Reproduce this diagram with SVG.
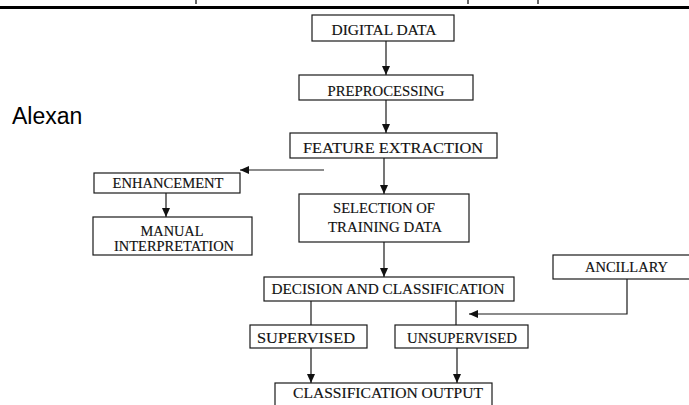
<svg xmlns="http://www.w3.org/2000/svg" width="689" height="405" viewBox="0 0 689 405">
<style>
.box{fill:#fff;stroke:#1a1a1a;stroke-width:1.2}
.t{font-family:"Liberation Serif","Times New Roman",serif;font-size:15px;fill:#111;text-anchor:middle;stroke:#111;stroke-width:0.15}
.ln{stroke:#1a1a1a;stroke-width:1.2;fill:none}
</style>
<defs>
<marker id="ah" markerWidth="10" markerHeight="8" refX="9" refY="4" orient="auto" markerUnits="userSpaceOnUse">
<path d="M0,0 L9,4 L0,8 Z" fill="#111"/>
</marker>
</defs>
<rect width="689" height="405" fill="#fff"/>
<g id="header">
<line x1="0" y1="7.5" x2="689" y2="7.5" stroke="#000" stroke-width="3"/>
<line x1="196" y1="0" x2="196" y2="4" stroke="#333" stroke-width="1.5"/>
<line x1="468" y1="0" x2="468" y2="4" stroke="#333" stroke-width="1.5"/>
<line x1="538" y1="0" x2="538" y2="4" stroke="#333" stroke-width="1.5"/>
<text x="12" y="124" font-family="Liberation Sans, Arial, sans-serif" font-size="23" fill="#000">Alexan</text>
</g>
<g id="connectors">
<line class="ln" x1="386" y1="41" x2="386" y2="75" marker-end="url(#ah)"/>
<line class="ln" x1="386" y1="100" x2="386" y2="133" marker-end="url(#ah)"/>
<line class="ln" x1="384" y1="158" x2="384" y2="194" marker-end="url(#ah)"/>
<line class="ln" x1="384" y1="242" x2="384" y2="277" marker-end="url(#ah)"/>
<line class="ln" x1="324" y1="170" x2="240" y2="170" marker-end="url(#ah)"/>
<line class="ln" x1="166" y1="193" x2="166" y2="217" marker-end="url(#ah)"/>
<line class="ln" x1="311" y1="301" x2="311" y2="325"/>
<line class="ln" x1="456" y1="301" x2="456" y2="325"/>
<polyline class="ln" points="627,279 627,314 469,314" marker-end="url(#ah)"/>
<line class="ln" x1="311" y1="348" x2="311" y2="383" marker-end="url(#ah)"/>
<line class="ln" x1="457" y1="348" x2="457" y2="383" marker-end="url(#ah)"/>
</g>
<g id="digital-data">
<rect class="box" x="312" y="15" width="142" height="26"/>
<text class="t" x="384" y="35" textLength="105" lengthAdjust="spacingAndGlyphs">DIGITAL DATA</text>
</g>
<g id="preprocessing">
<rect class="box" x="299" y="75" width="174" height="25"/>
<text class="t" x="386" y="96" textLength="117" lengthAdjust="spacingAndGlyphs">PREPROCESSING</text>
</g>
<g id="feature-extraction">
<rect class="box" x="290" y="133" width="207" height="25"/>
<text class="t" x="393" y="153" textLength="180" lengthAdjust="spacingAndGlyphs">FEATURE EXTRACTION</text>
</g>
<g id="enhancement">
<rect class="box" x="94" y="173" width="146" height="20"/>
<text class="t" x="168" y="188" textLength="111" lengthAdjust="spacingAndGlyphs">ENHANCEMENT</text>
</g>
<g id="manual-interpretation">
<rect class="box" x="93" y="217" width="159" height="38"/>
<text class="t" x="172" y="236" textLength="63" lengthAdjust="spacingAndGlyphs">MANUAL</text>
<text class="t" x="174" y="251" textLength="120" lengthAdjust="spacingAndGlyphs">INTERPRETATION</text>
</g>
<g id="selection">
<rect class="box" x="299" y="194" width="170" height="48"/>
<text class="t" x="384" y="213" textLength="102" lengthAdjust="spacingAndGlyphs">SELECTION OF</text>
<text class="t" x="385" y="232" textLength="114" lengthAdjust="spacingAndGlyphs">TRAINING DATA</text>
</g>
<g id="decision">
<rect class="box" x="264" y="277" width="250" height="24"/>
<text class="t" x="388" y="294" textLength="233" lengthAdjust="spacingAndGlyphs">DECISION AND CLASSIFICATION</text>
</g>
<g id="ancillary">
<rect class="box" x="553" y="255" width="140" height="24"/>
<text class="t" x="626.5" y="272" textLength="83" lengthAdjust="spacingAndGlyphs">ANCILLARY</text>
</g>
<g id="supervised">
<rect class="box" x="250" y="325" width="117" height="23"/>
<text class="t" x="306" y="343" textLength="98" lengthAdjust="spacingAndGlyphs">SUPERVISED</text>
</g>
<g id="unsupervised">
<rect class="box" x="395" y="325" width="133" height="23"/>
<text class="t" x="462" y="343" textLength="110" lengthAdjust="spacingAndGlyphs">UNSUPERVISED</text>
</g>
<g id="classification-output">
<rect class="box" x="275" y="383" width="217" height="30"/>
<text class="t" x="388" y="398" textLength="190" lengthAdjust="spacingAndGlyphs">CLASSIFICATION OUTPUT</text>
</g>
</svg>
